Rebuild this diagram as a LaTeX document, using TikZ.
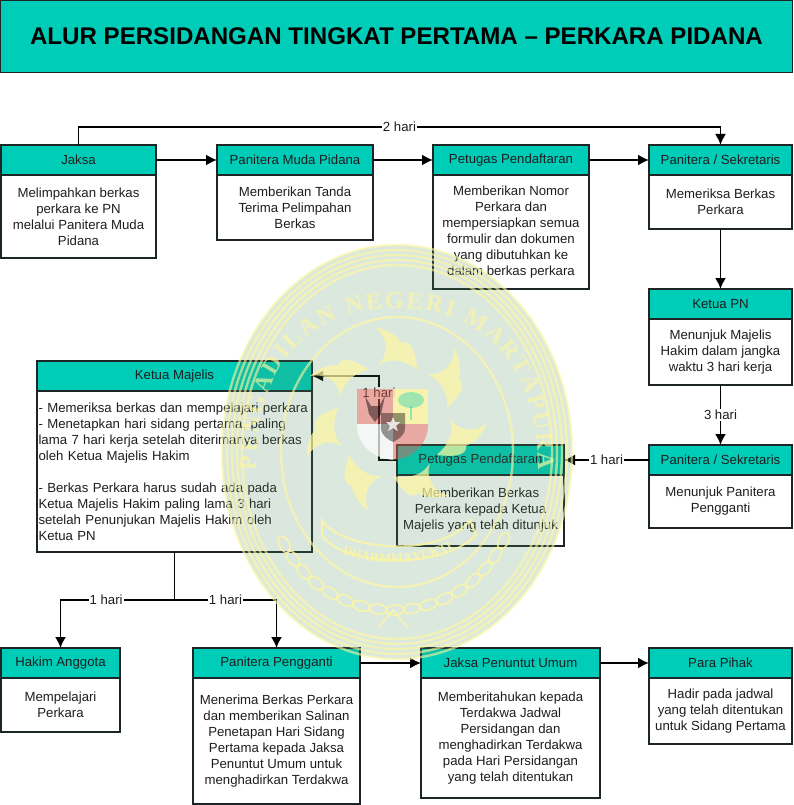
\documentclass[tikz,border=0pt]{standalone}
\usepackage{fontspec}
\setmainfont{Liberation Sans}
\newfontfamily\sealfont{Liberation Serif}
\usetikzlibrary{arrows.meta,decorations.text}
\definecolor{teal1}{HTML}{00CDB8}
\definecolor{ink}{HTML}{1E1E1E}
\definecolor{edge}{HTML}{1C2626}
\definecolor{sealgreen}{HTML}{4D8A5A}
\definecolor{sealyellow}{HTML}{FFF7A0}
\tikzset{
  hdr/.style={draw=edge,line width=1.1pt,fill=teal1,anchor=north west,inner sep=0pt,outer sep=0pt,minimum height=30pt,text=ink,font=\fontsize{13.2}{16}\selectfont},
  bodybox/.style={draw=edge,line width=1.1pt,fill=white,anchor=north west,inner sep=0pt,outer sep=0pt,align=center,text=ink,font=\fontsize{13.2}{16}\selectfont},
  conn/.style={draw=black,line width=1.8pt,-{Latex[length=11pt,width=11pt]}},
  plainconn/.style={draw=black,line width=1.8pt},
  lbl/.style={fill=white,inner sep=1pt,text=ink,font=\fontsize{13.2}{14}\selectfont},
  ringline/.style={draw=sealyellow,line width=2.4pt,draw opacity=.6},
  petal/.style={fill=sealyellow,fill opacity=.7},
  chainlink/.style={draw=sealyellow,line width=1.6pt,draw opacity=.8}
}
\begin{document}
\begin{tikzpicture}[x=1pt,y=-1pt]
\useasboundingbox (0,0) rectangle (793,805);
\node[draw=edge,line width=1.2pt,fill=teal1,anchor=north west,inner sep=0pt,outer sep=0pt,minimum width=792pt,minimum height=72pt,font=\bfseries\fontsize{24.1}{28}\selectfont,text=black] (title) at (0.5,0.5) {ALUR PERSIDANGAN TINGKAT PERTAMA -- PERKARA PIDANA};

% Top row
\node[hdr,minimum width=155pt] (jaksaH) at (1,145) {Jaksa};
\node[bodybox,minimum width=155pt,minimum height=83pt] (jaksaB) at (1,175) {Melimpahkan berkas\\perkara ke PN\\melalui Panitera Muda\\Pidana};
\node[hdr,minimum width=156pt] (pmpH) at (217,145) {Panitera Muda Pidana};
\node[bodybox,minimum width=156pt,minimum height=65pt] (pmpB) at (217,175) {Memberikan Tanda\\Terima Pelimpahan\\Berkas};
\node[hdr,minimum width=156pt] (ppH) at (433,145) {Petugas Pendaftaran};
\node[bodybox,minimum width=156pt,minimum height=114pt] (ppB) at (433,175) {Memberikan Nomor\\Perkara dan\\mempersiapkan semua\\formulir dan dokumen\\yang dibutuhkan ke\\dalam berkas perkara};
\node[hdr,minimum width=143pt] (psAH) at (649,145) {Panitera / Sekretaris};
\node[bodybox,minimum width=143pt,minimum height=54pt] (psAB) at (649,175) {Memeriksa Berkas\\Perkara};

% Right column
\node[hdr,minimum width=143pt] (kpnH) at (649,289) {Ketua PN};
\node[bodybox,minimum width=143pt,minimum height=66pt] (kpnB) at (649,319) {Menunjuk Majelis\\Hakim dalam jangka\\waktu 3 hari kerja};
\node[hdr,minimum width=143pt] (psBH) at (649,445) {Panitera / Sekretaris};
\node[bodybox,minimum width=143pt,minimum height=53pt] (psBB) at (649,475) {Menunjuk Panitera\\Pengganti};

% Middle
\node[hdr,minimum width=167pt] (pqH) at (397,445) {Petugas Pendaftaran};
\node[bodybox,minimum width=167pt,minimum height=71pt] (pqB) at (397,475) {Memberikan Berkas\\Perkara kepada Ketua\\Majelis yang telah ditunjuk};
\node[hdr,minimum width=275pt] (kmH) at (37,361) {Ketua Majelis};
\node[bodybox,minimum width=275pt,minimum height=161pt,align=left,text width=272pt,inner xsep=1.5pt] (kmB) at (37,391) {- Memeriksa berkas dan mempelajari perkara\\- Menetapkan hari sidang pertama, paling\\lama 7 hari kerja setelah diterimanya berkas\\oleh Ketua Majelis Hakim\\[16pt]- Berkas Perkara harus sudah ada pada\\Ketua Majelis Hakim paling lama 3 hari\\setelah Penunjukan Majelis Hakim oleh\\Ketua PN};

% Bottom row
\node[hdr,minimum width=119pt] (haH) at (1,648) {Hakim Anggota};
\node[bodybox,minimum width=119pt,minimum height=54pt] (haB) at (1,678) {Mempelajari\\Perkara};
\node[hdr,minimum width=167pt] (ppgH) at (193,648) {Panitera Pengganti};
\node[bodybox,minimum width=167pt,minimum height=126pt] (ppgB) at (193,678) {Menerima Berkas Perkara\\dan memberikan Salinan\\Penetapan Hari Sidang\\Pertama kepada Jaksa\\Penuntut Umum untuk\\menghadirkan Terdakwa};
\node[hdr,minimum width=179pt] (jpuH) at (421,648) {Jaksa Penuntut Umum};
\node[bodybox,minimum width=179pt,minimum height=120pt] (jpuB) at (421,678) {Memberitahukan kepada\\Terdakwa Jadwal\\Persidangan dan\\menghadirkan Terdakwa\\pada Hari Persidangan\\yang telah ditentukan};
\node[hdr,minimum width=143pt] (ppkH) at (649,648) {Para Pihak};
\node[bodybox,minimum width=143pt,minimum height=66pt] (ppkB) at (649,678) {Hadir pada jadwal\\yang telah ditentukan\\untuk Sidang Pertama};

% Connectors
\draw[conn] (jaksaH.north) -- ++(0,-18) -| node[pos=.25,lbl]{2 hari} (psAH.north);
\draw[conn] (jaksaH.east) -- (pmpH.west);
\draw[conn] (pmpH.east) -- (ppH.west);
\draw[conn] (ppH.east) -- (psAH.west);
\draw[conn] (psAB.south) -- (kpnH.north);
\draw[conn] (kpnB.south) -- node[lbl]{3 hari} (psBH.north);
\draw[conn] (psBH.west) -- node[lbl]{1 hari} (pqH.east);
\draw[conn] (pqH.west) -- ++(-18,0) |- node[lbl,pos=.4]{1 hari} (kmH.east);
\coordinate (split) at ([yshift=-48pt]kmB.south);
\draw[plainconn] (kmB.south) -- (split);
\draw[conn] (split) -| node[pos=.3,lbl]{1 hari} (haH.north);
\draw[conn] (split) -| node[pos=.25,lbl]{1 hari} (ppgH.north);
\draw[conn] (ppgH.east) -- (jpuH.west);
\draw[conn] (jpuH.east) -- (ppkH.west);

% Watermark seal
\fill[sealgreen,fill opacity=.2] (397,452) circle [x radius=175,y radius=207];
\foreach \d in {0,5,10,15,20}
  \draw[ringline] (397,452) circle [x radius=175-\d,y radius=207-\d];
\draw[ringline] (397,452) circle [x radius=116,y radius=135];
\begin{scope}[opacity=.65]
\path[decorate,decoration={text along path,text align={fit to path},text color=sealyellow,
  text format delimiters={|}{|},
  text={|\sealfont\bfseries\fontsize{24}{24}\selectfont|PENGADILAN NEGERI MARTAPURA}}]
  (256,470) .. controls (256,352) and (322,308) .. (397,308) .. controls (472,308) and (538,352) .. (538,470);
\end{scope}
\begin{scope}[shift={(393,420)},scale=1.1]
  \foreach \r in {0,51.43,102.86,154.29,205.71,257.14,308.57}
    \fill[petal,rotate=\r] (-13,-50) .. controls (-4,-60) and (-4,-74) .. (-16,-84) .. controls (-4,-82) and (4,-76) .. (8,-70) .. controls (14,-72) and (20,-68) .. (22,-46) .. controls (8,-56) and (-4,-56) .. (-13,-50) -- cycle;
\end{scope}
\begin{scope}[shift={(393,420)}]
  \fill[red!70!white,fill opacity=.4] (-36,-31) rectangle (0,4);
  \fill[sealyellow,fill opacity=.8] (0,-31) rectangle (35,4);
  \fill[white,fill opacity=.7] (-36,4) -- (0,4) -- (0,40) .. controls (-20,38) and (-36,25) .. (-36,4) -- cycle;
  \fill[red!70!white,fill opacity=.4] (35,4) -- (0,4) -- (0,40) .. controls (20,38) and (35,25) .. (35,4) -- cycle;
  \fill[black,fill opacity=.4] (-12,-7) -- (12,-7) -- (12,8) .. controls (12,16) and (4,20) .. (0,22) .. controls (-4,20) and (-12,16) .. (-12,8) -- cycle;
  \fill[white,fill opacity=.8] (0,-3) -- (2,2) -- (7,2) -- (3,6) -- (5,11) -- (0,8) -- (-5,11) -- (-3,6) -- (-7,2) -- (-2,2) -- cycle;
  \fill[black,fill opacity=.45] (-28,-24) -- (-22,-14) -- (-14,-14) -- (-8,-24) -- (-12,-6) -- (-18,2) -- (-24,-6) -- cycle;
  \fill[teal1,fill opacity=.35] (18,-20) circle [x radius=13,y radius=8];
  \draw[teal1,line width=1.5pt,draw opacity=.4] (18,-14) -- (18,0);
\end{scope}
\draw[sealyellow,line width=2pt,draw opacity=.8] (322,520) .. controls (340,550) and (440,560) .. (470,520) -- (476,535) .. controls (440,572) and (340,565) .. (322,535) -- cycle;
\begin{scope}[opacity=.8]
\path[decorate,decoration={text along path,text align=center,text color=sealyellow,
  text format delimiters={|}{|},
  text={|\sealfont\bfseries\fontsize{13}{13}\selectfont|DHARMMAYUKTI}}]
  (330,545) .. controls (350,568) and (435,570) .. (465,540);
\end{scope}
\foreach \a in {25,33,...,155}
  \draw[chainlink] ({393+122*cos(\a)},{490+120*sin(\a)}) circle [x radius=9,y radius=5,rotate=90-\a];
\draw[chainlink] (393,610) -- (378,628) (393,610) -- (408,628);
\end{tikzpicture}
\end{document}
